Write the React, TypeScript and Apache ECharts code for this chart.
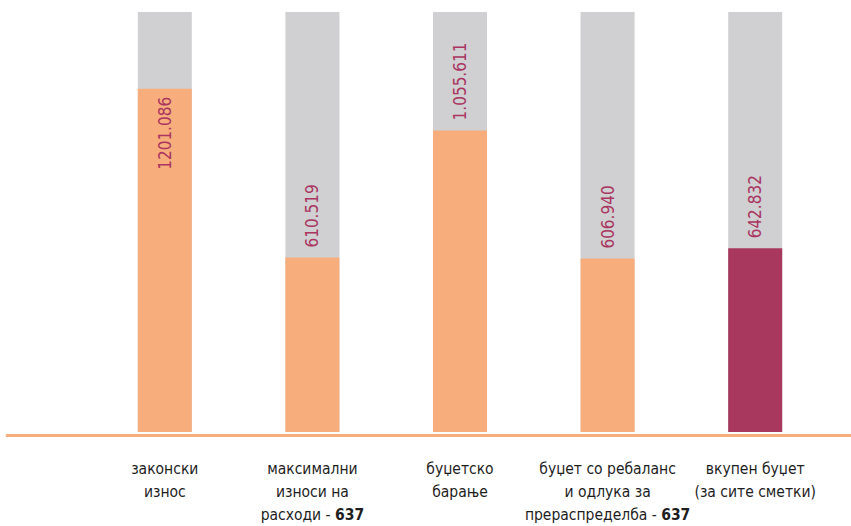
import React, { useEffect, useRef } from "react";
import * as echarts from "echarts";

const categories: string[] = [
  "законски\nизнос",
  "максимални\nизноси на\nрасходи - 637",
  "буџетско\nбарање",
  "буџет со ребаланс\nи одлука за\nпрераспределба - 637",
  "вкупен буџет\n(за сите сметки)",
];
const values: number[] = [1201.086, 610.519, 1055.611, 606.94, 642.832];
const valueLabels: string[] = ["1201.086", "610.519", "1.055.611", "606.940", "642.832"];
const barColors: string[] = ["#F8AE7C", "#F8AE7C", "#F8AE7C", "#F8AE7C", "#A8385E"];
const insideLabel: boolean[] = [true, false, false, false, false];

const FONT = "'DejaVu Sans Condensed', 'Liberation Sans Narrow', 'Roboto', sans-serif";

export default function App() {
  const ref = useRef<HTMLDivElement>(null);
  useEffect(() => {
    if (!ref.current) return;
    const chart = echarts.init(ref.current, undefined, { renderer: "svg" });
    const labelBase = {
      show: true,
      rotate: 90,
      color: "#A93560",
      fontSize: 17,
      fontFamily: FONT,
      formatter: (p: any) => valueLabels[p.dataIndex],
    };
    chart.setOption({
      animation: false,
      backgroundColor: "#ffffff",
      grid: [
        { left: 91, right: 22, top: 12, bottom: 91 },
        { left: 7, right: 0, top: 12, bottom: 91 },
      ],
      xAxis: [
        {
          type: "category",
          gridIndex: 0,
          data: categories,
          axisLine: { show: false },
          axisTick: { show: false },
          axisLabel: {
            interval: 0,
            margin: 25,
            color: "#1e1e1e",
            fontSize: 15.5,
            lineHeight: 23,
            fontFamily: FONT,
            formatter: (v: string) => v.replace(/637$/, "{b|637}"),
            rich: {
              b: {
                fontWeight: "bold",
                fontSize: 15.5,
                lineHeight: 23,
                fontFamily: FONT,
                color: "#1e1e1e",
              },
            },
          },
        },
        {
          type: "value",
          gridIndex: 1,
          min: 0,
          max: 1,
          axisLine: { show: true, onZero: false, lineStyle: { color: "#F8AE7C", width: 3 } },
          axisTick: { show: false },
          axisLabel: { show: false },
          splitLine: { show: false },
        },
      ],
      yAxis: [
        {
          type: "value",
          gridIndex: 0,
          min: 0,
          max: 1470,
          show: false,
          splitLine: { show: false },
        },
        { type: "value", gridIndex: 1, show: false, min: 0, max: 1 },
      ],
      series: [
        {
          type: "bar",
          xAxisIndex: 0,
          yAxisIndex: 0,
          barWidth: 54,
          showBackground: true,
          backgroundStyle: { color: "#D0D0D2" },
          data: values.map((v, i) => ({
            value: v,
            itemStyle: { color: barColors[i] },
            label: insideLabel[i]
              ? { ...labelBase, position: "insideTop", distance: 8, align: "right", verticalAlign: "middle" }
              : { ...labelBase, position: "top", distance: 10, align: "left", verticalAlign: "middle" },
          })),
        },
      ],
    });
    return () => chart.dispose();
  }, []);
  return (
    <div
      ref={ref}
      style={{ position: "fixed", left: 0, top: 0, width: 851, height: 526 }}
    />
  );
}
